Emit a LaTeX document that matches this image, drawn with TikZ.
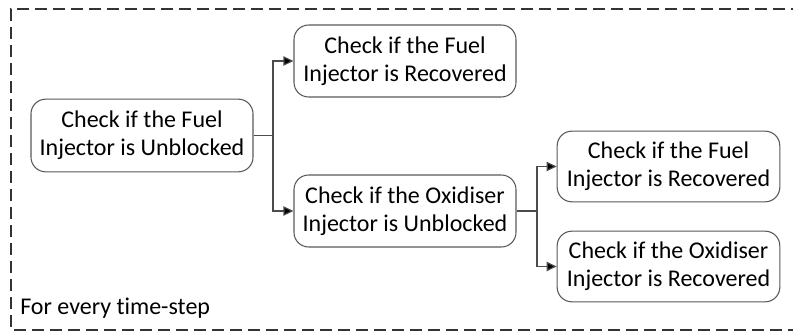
\documentclass[tikz,border=0pt]{standalone}
\usepackage{fontspec}
\setmainfont[Ligatures={NoCommon}]{Carlito}
\usetikzlibrary{arrows.meta}
\begin{document}
\begin{tikzpicture}[x=0.75pt,y=-0.75pt,
  stepbox/.style={draw=black!65, line width=0.8pt, rounded corners=11pt,
    align=center, inner sep=0pt, font=\fontsize{18}{21}\selectfont},
  link/.style={draw=black!70, line width=0.9pt,
    -{Triangle[length=7.5pt,width=7pt,fill=black]}},
  frame/.style={draw=black!80, line width=1.1pt, dash pattern=on 9pt off 4.5pt}]
\useasboundingbox (0,0) rectangle (793,331);
% outer loop frame
\draw[frame] (800,330) -- (11,330) -- (11,9) -- (800,9);
\node[anchor=west, inner sep=0pt, font=\fontsize{18}{21}\selectfont] (lbl) at (20,308) {For every time-step};
% decision boxes
\node[stepbox, minimum width=166.5pt, minimum height=54.5pt] (fu) at (142,135.5) {Check if the Fuel\\Injector is Unblocked};
\node[stepbox, minimum width=166.5pt, minimum height=54pt] (fr) at (405,61) {Check if the Fuel\\Injector is Recovered};
\node[stepbox, minimum width=166.5pt, minimum height=54pt] (ou) at (405,211) {Check if the Oxidiser\\Injector is Unblocked};
\node[stepbox, minimum width=167pt, minimum height=53pt] (fr2) at (668.5,166.5) {Check if the Fuel\\Injector is Recovered};
\node[stepbox, minimum width=167pt, minimum height=53pt] (or) at (668.5,266.5) {Check if the Oxidiser\\Injector is Recovered};
% branching connectors
\coordinate (j1) at (273,135.5);
\coordinate (j2) at (537,211);
\draw[link] (fu.east) -- (j1) |- (fr.west);
\draw[link] (fu.east) -- (j1) |- (ou.west);
\draw[link] (ou.east) -- (j2) |- (fr2.west);
\draw[link] (ou.east) -- (j2) |- (or.west);
\end{tikzpicture}
\end{document}
